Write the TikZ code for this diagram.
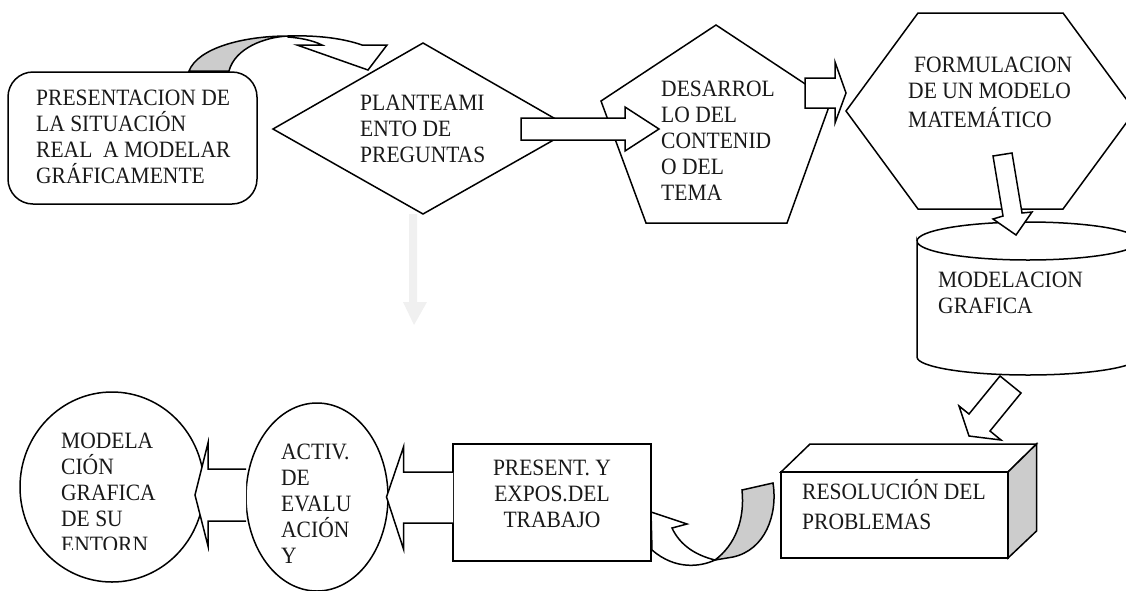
\documentclass[tikz,border=0pt]{standalone}
\usepackage{fontspec}
\setmainfont[FakeStretch=0.92]{Liberation Serif}
\newcommand{\lblfont}{\fontsize{23.4}{26}\selectfont\setlength{\lineskiplimit}{-20pt}}
\tikzset{
  x=1pt,y=-1pt,
  shp/.style={draw=black,line width=1.5pt,fill=white,line join=miter},
  band/.style={draw=black,line width=1.5pt,fill=bandgray},
  lbl/.style={anchor=north west,inner sep=0pt,align=left,yshift=18.2pt,text=black!90,
    font=\lblfont},
  lblc/.style={lbl,anchor=north,align=center}
}
\definecolor{bandgray}{gray}{0.8}
\begin{document}
\begin{tikzpicture}
\useasboundingbox (0,0) rectangle (1126,590);
\clip (0,0) rectangle (1126,590);
% rounded box with curved arrow
\draw[band] (189,71) .. controls (198,48) and (243,36) .. (288,36)
  .. controls (265,37) and (235,48) .. (229,71) -- cycle;
\draw[shp] (288,36) .. controls (320,35) and (345,39) .. (362,45) -- (387,45) -- (368,70)
  -- (297,45) -- (322,45) .. controls (312,40) and (300,38) .. (288,37) -- cycle;
\draw[shp,rounded corners=25pt] (8,72) rectangle (257,204);
% decision and pentagon
\draw[shp] (273,129) -- (423,43) -- (573,129) -- (423,214) -- cycle;
\draw[shp] (716,25) -- (831,101) -- (787,223) -- (646,223) -- (601,101) -- cycle;
\draw[shp] (521,118) -- (625,118) -- (625,107) -- (659,129) -- (625,151) -- (625,140) -- (521,140) -- cycle;
% hexagon
\draw[shp] (846,111) -- (918,13) -- (1063,13) -- (1135,111) -- (1063,209) -- (918,209) -- cycle;
\draw[shp] (805,78) -- (835,78) -- (835,62) -- (846,93) -- (835,123) -- (835,108) -- (805,108) -- cycle;
% cylinder
\draw[shp] (917,241) arc[start angle=180,end angle=0,x radius=111,y radius=19]
  -- (1139,357) arc[start angle=0,end angle=180,x radius=111,y radius=18] -- cycle;
\draw[line width=1.5pt] (917,241) arc[start angle=180,end angle=360,x radius=111,y radius=19];
\draw[shp] (993,156) -- (1012,153) -- (1022,213) -- (1032,212) -- (1016,235) -- (993,219) -- (1003,216) -- cycle;
% 3D box
\draw[shp] (781,472) -- (810,444) -- (1036.5,444) -- (1008,472) -- cycle;
\draw[band] (1008,472) -- (1036.5,444) -- (1036.5,531) -- (1008,558) -- cycle;
\draw[shp] (781,472) rectangle (1008,558);
\draw[shp] (1000,376) -- (1021,393) -- (990,431) -- (1001,440) -- (969,436) -- (959,406) -- (969,414) -- cycle;
% curved arrow bottom
\draw[shp] (651,512) -- (687,524) -- (672,528) .. controls (680,545) and (695,555) .. (715,560)
  .. controls (700,567) and (675,570) .. (652,550) -- cycle;
\draw[band] (742,490) -- (773,483) .. controls (778,515) and (765,550) .. (733,557)
  -- (715,560) .. controls (735,545) and (745,520) .. cycle;
\draw[shp] (453,444) rectangle (651,561);
% ellipses
\draw[shp] (112,487) ellipse[x radius=92,y radius=95];
\draw[shp] (317,497) ellipse[x radius=71,y radius=94];
\draw[shp] (453,472) -- (403.5,472) -- (403.5,447) -- (386.5,497) -- (403.5,549) -- (403.5,523) -- (453,523);
\draw[shp] (246,469) -- (208,469) -- (208,443) -- (195,495) -- (208,546) -- (208,521) -- (246,521);
% faint arrow
\fill[gray!12] (409,214) -- (417,214) -- (417,302) -- (427,302) -- (414,325) -- (403,302) -- (409,302) -- cycle;
% texts
\node[lbl] (presentacion) at (36,105) {\strut PRESENTACION DE\\LA SITUACIÓN\\REAL\ \ A MODELAR\\GRÁFICAMENTE};
\node[lbl] (planteamiento) at (360,110) {\strut PLANTEAMI\\ENTO DE\\PREGUNTAS};
\node[lbl] (desarrollo) at (661,96) {\strut DESARROL\\LO DEL\\CONTENID\\O DEL\\TEMA};
\node[lbl] (formulacion) at (908,72) {\strut \hspace{6pt}FORMULACION\\DE UN MODELO\\[3pt]MATEMÁTICO};
\node[lbl] (modelacion) at (938,287) {\strut MODELACION\\GRAFICA};
\node[lbl] (resolucion) at (802,497) {\strut RESOLUCIÓN DEL\\[4pt]PROBLEMAS};
\node[lblc] (presentexp) at (552,475) {\strut PRESENT. Y\\EXPOS.DEL\\TRABAJO};
\node[lbl] (activ) at (281,459) {\strut ACTIV.\\DE\\EVALU\\ACIÓN\\Y};
\begin{scope}
\clip (40,420) rectangle (200,549);
\node[lbl] (modelacionsu) at (61,448) {\strut MODELA\\CIÓN\\GRAFICA\\DE SU\\ENTORN};
\end{scope}
\end{tikzpicture}
\end{document}
